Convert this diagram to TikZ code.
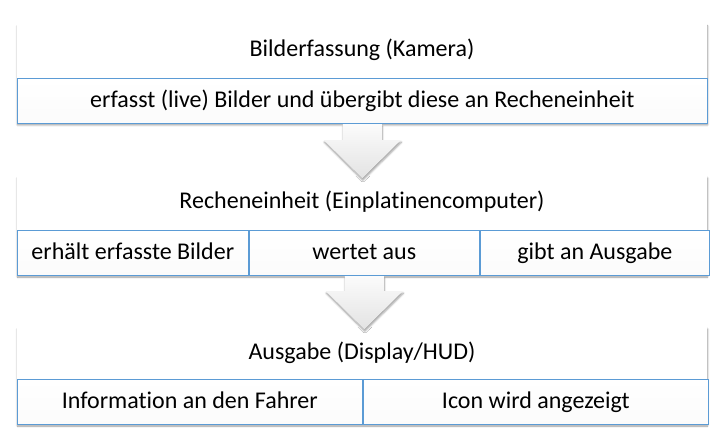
\documentclass[tikz,border=0pt]{standalone}
\usepackage{fontspec}
\setmainfont[Ligatures=NoCommon]{Carlito}
\usetikzlibrary{positioning,shadows.blur}
\definecolor{boxblue}{RGB}{91,155,213}

\begin{document}
\begin{tikzpicture}[x=1pt,y=-1pt,
  frame/.style={rectangle,fill=white,inner sep=0,minimum width=690,
    blur shadow={shadow xshift=0.5pt,shadow yshift=-2pt,shadow blur steps=6,shadow opacity=40}},
  titlerow/.style={rectangle,fill=white,inner sep=0,minimum width=690,minimum height=54,
    text height=17pt,text depth=5pt,font=\fontsize{24}{28}\selectfont},
  cell/.style={rectangle,draw=boxblue,line width=1pt,inner sep=0,top color=white,bottom color=gray!3,
    minimum height=45,text height=17pt,text depth=5pt,font=\fontsize{24}{28}\selectfont},
  blockarrow/.style={top color=gray!3,bottom color=gray!22,
    blur shadow={shadow xshift=0.5pt,shadow yshift=-2pt,shadow blur steps=5,shadow opacity=40}}]
\useasboundingbox (0,0) rectangle (720,438);
\node[frame,minimum height=99] (f1) at (362,73.5) {};
\node[titlerow,anchor=north] (kamera) at (f1.north) {Bilderfassung (Kamera)};
\node[cell,anchor=north west,minimum width=690] (bilder) at (kamera.south west) {erfasst (live) Bilder und übergibt diese an Recheneinheit};
\node[frame,minimum height=99] (f2) at (362,225.5) {};
\node[titlerow,anchor=north] (rechen) at (f2.north) {Recheneinheit (Einplatinencomputer)};
\node[cell,anchor=north west,minimum width=231] (erhalt) at (rechen.south west) {erhält erfasste Bilder};
\node[cell,anchor=west,minimum width=230] (wertet) at (erhalt.east) {wertet aus};
\node[cell,anchor=west,minimum width=229] (gibt) at (wertet.east) {gibt an Ausgabe};
\node[frame,minimum height=97] (f3) at (362,375.5) {};
\node[titlerow,anchor=north,minimum height=52] (ausgabe) at (f3.north) {Ausgabe (Display/HUD)};
\node[cell,anchor=north west,minimum width=345] (info) at (ausgabe.south west) {Information an den Fahrer};
\node[cell,anchor=west,minimum width=345] (icon) at (info.east) {Icon wird angezeigt};
\path[blockarrow] (bilder.south) ++(-19.5,0) -- ++(0,16) -- ++(-19,0) -- ++(38.5,38)
  -- ++(38.5,-38) -- ++(-19,0) -- ++(0,-16) -- cycle;
\path[blockarrow] (wertet.south) ++(-19.5,0) -- ++(0,15) -- ++(-19,0) -- ++(38.5,38)
  -- ++(38.5,-38) -- ++(-19,0) -- ++(0,-15) -- cycle;
\end{tikzpicture}
\end{document}
